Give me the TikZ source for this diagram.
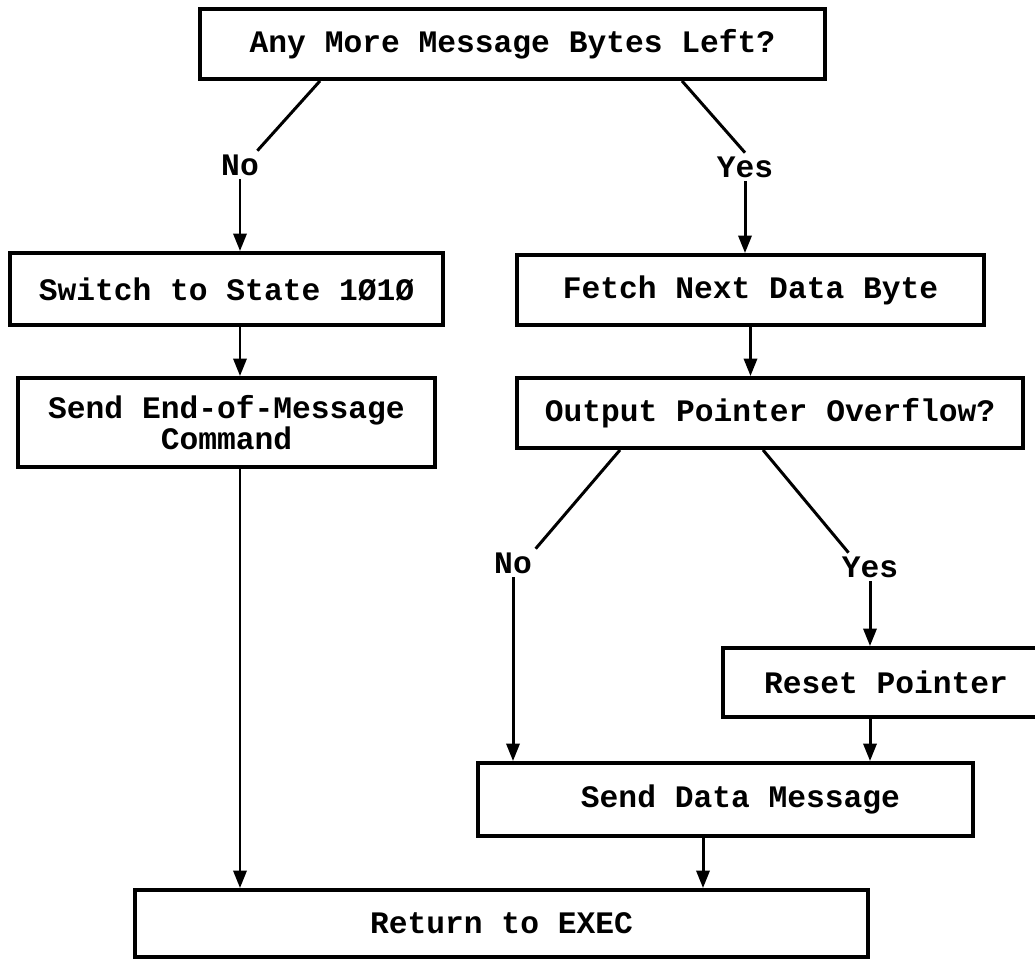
\documentclass[tikz,border=0pt]{standalone}
\usepackage{fontspec}
\setmonofont{Liberation Mono}
\usetikzlibrary{arrows.meta}

\begin{document}
\begin{tikzpicture}[
    flowbox/.style={draw, line width=2.2pt, rectangle, align=center, inner sep=0pt},
    answer/.style={inner sep=2pt},
    flow/.style={line width=1.7pt},
    flowarrow/.style={flow, -{Triangle[width=7.5pt,length=10pt]}},
    font=\ttfamily\bfseries\fontsize{17.8}{17.5}\selectfont
]
\useasboundingbox (0,0) rectangle (20.7,-19.16);
\clip (0,0) rectangle (20.7,-19.16);

% Decision at the top
\node[flowbox, minimum width=12.5cm, minimum height=1.4cm] (bytesleft) at (10.25,-0.88) {Any More Message Bytes Left?};
\node[answer] (no1) at (4.8,-3.3) {No};
\node[answer] (yes1) at (14.9,-3.34) {Yes};

% Left branch
\node[flowbox, minimum width=8.66cm, minimum height=1.44cm] (switch) at (4.53,-5.78) {Switch to State 1Ø1Ø};
\node[flowbox, minimum width=8.34cm, minimum height=1.78cm] (sendend) at (4.53,-8.45) {Send End-of-Message\\Command};

% Right branch
\node[flowbox, minimum width=9.34cm, minimum height=1.4cm] (fetch) at (15.01,-5.8) {Fetch Next Data Byte};
\node[flowbox, minimum width=10.12cm, minimum height=1.4cm] (overflow) at (15.4,-8.26) {Output Pointer Overflow?};
\node[answer] (no2) at (10.26,-11.26) {No};
\node[answer] (yes2) at (17.4,-11.34) {Yes};
\node[flowbox, minimum width=6.52cm, minimum height=1.38cm] (reset) at (17.72,-13.65) {Reset Pointer};
\node[flowbox, minimum width=9.9cm, minimum height=1.46cm] (senddata) at (14.51,-15.99) {\hspace*{0.6cm}Send Data Message};

% Exit
\node[flowbox, minimum width=14.66cm, minimum height=1.34cm] (return) at (10.03,-18.47) {Return to EXEC};

% Connectors
\draw[flow] ([xshift=-3.85cm]bytesleft.south) -- ([xshift=-3pt]no1.north east);
\draw[flow] ([xshift=3.39cm]bytesleft.south) -- (yes1.north);
\draw[flowarrow] (no1.south) -- (no1.south |- switch.north);
\draw[flowarrow] (yes1.south) -- (yes1.south |- fetch.north);
\draw[flowarrow] (switch.south -| no1.south) -- (sendend.north -| no1.south);
\draw[flowarrow] (fetch.south) -- (fetch.south |- overflow.north);
\draw[flow] ([xshift=-3cm]overflow.south) -- (no2.north east);
\draw[flow] ([xshift=-0.14cm]overflow.south) -- ([xshift=6pt]yes2.north west);
\draw[flowarrow] (no2.south) -- (no2.south |- senddata.north);
\draw[flowarrow] (yes2.south) -- (yes2.south |- reset.north);
\draw[flowarrow] (reset.south -| yes2.south) -- (senddata.north -| yes2.south);
\draw[flowarrow] (sendend.south -| no1.south) -- (return.north -| no1.south);
\draw[flowarrow] ([xshift=-0.45cm]senddata.south) -- ([xshift=-0.45cm]senddata.south |- return.north);
\end{tikzpicture}
\end{document}
